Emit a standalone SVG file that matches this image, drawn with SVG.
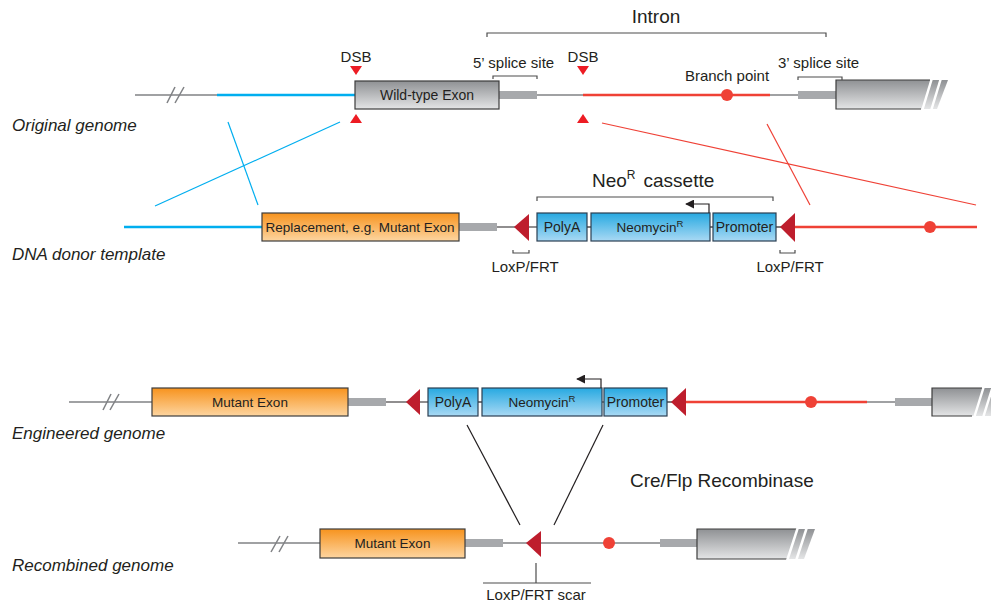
<svg xmlns="http://www.w3.org/2000/svg" width="991" height="605" viewBox="0 0 991 605">
<defs>
<linearGradient id="gGray" x1="0" y1="0" x2="0" y2="1"><stop offset="0" stop-color="#8f9194"/><stop offset="1" stop-color="#e4e5e6"/></linearGradient>
<linearGradient id="gOrange" x1="0" y1="0" x2="0" y2="1"><stop offset="0" stop-color="#f7931e"/><stop offset="1" stop-color="#fdd5a0"/></linearGradient>
<linearGradient id="gBlue" x1="0" y1="0" x2="0" y2="1"><stop offset="0" stop-color="#27a9e1"/><stop offset="1" stop-color="#a9d9f4"/></linearGradient>
<marker id="arr" viewBox="0 0 10 10" refX="9" refY="5" markerWidth="9" markerHeight="9" markerUnits="userSpaceOnUse" orient="auto"><path d="M0,0 L10,5 L0,10 Z" fill="#231f20"/></marker>
</defs>
<style>
text{font-family:"Liberation Sans",Arial,sans-serif;fill:#231f20}
.lbl{font-size:17px;font-style:italic}
.big{font-size:19px}
.sm{font-size:15px}
.box{font-size:14px;text-anchor:middle}
.thin{stroke:#808285;stroke-width:1.5;fill:none}
.blk{stroke:#231f20;stroke-width:1.2;fill:none}
.blue{stroke:#00aeef;stroke-width:2.5;fill:none}
.red{stroke:#ef4136;stroke-width:2.5;fill:none}
.redthin{stroke:#ef4136;stroke-width:1.2;fill:none}
.bluethin{stroke:#00aeef;stroke-width:1.2;fill:none}
.bar{fill:#a7a9ac}
.gbox{fill:url(#gGray)}
.obox{fill:url(#gOrange);stroke:#3c3c3c;stroke-width:1.2}
.bbox{fill:url(#gBlue);stroke:#2b3f52;stroke-width:1.2}
.wbox{fill:url(#gGray);stroke:#3c3c3c;stroke-width:1.2}
.edge{stroke:#3c3c3c;stroke-width:1.2;fill:none}
.cut{stroke:#fff;stroke-width:2.5}
.lox{fill:#be1e2d}
.dsb{fill:#ed1c24}
.bp{fill:#ef4136}
.brk{stroke:#4d4d4d;stroke-width:1.2;fill:none}
.neo{font-size:13.5px}
</style>

<!-- Row labels -->
<g id="labels">
<text class="lbl" x="12" y="131">Original genome</text>
<text class="lbl" x="12" y="260">DNA donor template</text>
<text class="lbl" x="12" y="439">Engineered genome</text>
<text class="lbl" x="12" y="571">Recombined genome</text>
</g>

<!-- Connectors / crossing lines -->
<g id="connectors">
<line class="bluethin" x1="228" y1="122" x2="258" y2="205"/>
<line class="bluethin" x1="340" y1="122" x2="155" y2="206"/>
<line class="redthin" x1="602" y1="123" x2="976" y2="205"/>
<line class="redthin" x1="767" y1="124" x2="810" y2="205"/>
<line class="blk" x1="467" y1="425" x2="520" y2="525"/>
<line class="blk" x1="603" y1="425" x2="554" y2="525"/>
</g>

<!-- Row 1: Original genome -->
<g id="original-genome">
<line class="thin" x1="135" y1="95" x2="217" y2="95"/>
<line class="thin" x1="167" y1="103" x2="175" y2="87"/>
<line class="thin" x1="175" y1="103" x2="184" y2="87"/>
<line class="blue" x1="217" y1="95" x2="355" y2="95"/>
<rect class="bar" x="499" y="91" width="38" height="8"/>
<line class="thin" x1="537" y1="95" x2="583" y2="95"/>
<line class="red" x1="583" y1="95" x2="770" y2="95"/>
<circle class="bp" cx="727" cy="95" r="6"/>
<line class="thin" x1="770" y1="95" x2="798" y2="95"/>
<rect class="bar" x="798" y="91" width="38" height="8"/>
</g>
<g id="wild-type-exon">
<rect class="wbox" x="355" y="81" width="144" height="28"/>
<text class="box" x="427" y="100">Wild-type Exon</text>
</g>
<g id="exon2-original">
<polygon class="gbox" points="836,80 948,80 937,109 836,109"/>
<path class="edge" d="M930,80 H836 V109 H921"/>
<line class="cut" x1="932" y1="78" x2="922" y2="111"/>
<line class="cut" x1="941" y1="78" x2="931" y2="111"/>
</g>
<g id="dsb1">
<text class="sm" x="356" y="62" text-anchor="middle">DSB</text>
<polygon class="dsb" points="350,66 362,66 356,75"/>
<polygon class="dsb" points="350,123 362,123 356,114"/>
</g>
<g id="dsb2">
<text class="sm" x="583" y="62" text-anchor="middle">DSB</text>
<polygon class="dsb" points="577,66 589,66 583,75"/>
<polygon class="dsb" points="577,123 589,123 583,114"/>
</g>
<g id="intron">
<text class="big" x="656" y="23" text-anchor="middle">Intron</text>
<path class="brk" d="M487,37 V33 H826 V37"/>
</g>
<g id="splice5">
<text class="sm" x="473" y="68">5’ splice site</text>
<path class="brk" d="M493,79 V76 H537 V79"/>
</g>
<g id="splice3">
<text class="sm" x="778" y="68">3’ splice site</text>
<path class="brk" d="M798,80 V77 H842 V80"/>
</g>
<g id="branch-point">
<text class="sm" x="727" y="81" text-anchor="middle">Branch point</text>
</g>

<!-- Row 2: DNA donor template -->
<g id="donor-template">
<line class="blue" x1="124" y1="227" x2="262" y2="227"/>
<rect class="bar" x="459" y="223" width="38" height="8"/>
<line class="blk" x1="497" y1="227" x2="537" y2="227"/>
<line class="blk" x1="587" y1="227" x2="591" y2="227"/>
<line class="blk" x1="710" y1="227" x2="713" y2="227"/>
<line class="blk" x1="776" y1="227" x2="782" y2="227"/>
<line class="red" x1="795" y1="227" x2="977" y2="227"/>
<circle class="bp" cx="930" cy="227" r="6"/>
</g>
<g id="replacement-exon">
<rect class="obox" x="262" y="213" width="197" height="28"/>
<text class="box" x="360" y="232" style="font-size:13.5px">Replacement, e.g. Mutant Exon</text>
</g>
<g id="lox1-donor">
<polygon class="lox" points="514,227 529,214 529,241"/>
<path class="brk" d="M513,250 V253 H529 V250"/>
<text class="sm" x="525" y="272" text-anchor="middle">LoxP/FRT</text>
</g>
<g id="polyA-donor">
<rect class="bbox" x="537" y="213" width="50" height="28"/>
<text class="box" x="562" y="232">PolyA</text>
</g>
<g id="neo-donor">
<rect class="bbox" x="591" y="213" width="119" height="28"/>
<text class="box neo" x="650" y="232">Neomycin<tspan font-size="9.5" dy="-5">R</tspan></text>
<path class="blk" d="M709,213 V204 H686" marker-end="url(#arr)"/>
</g>
<g id="promoter-donor">
<rect class="bbox" x="713" y="213" width="63" height="28"/>
<text class="box" x="744.5" y="232">Promoter</text>
</g>
<g id="lox2-donor">
<polygon class="lox" points="780,227 795,213 795,242"/>
<path class="brk" d="M780,250 V253 H795 V250"/>
<text class="sm" x="790" y="272" text-anchor="middle">LoxP/FRT</text>
</g>
<g id="neo-cassette">
<text class="big" x="592" y="187">Neo<tspan font-size="12" dy="-8">R</tspan><tspan dy="8" dx="8">cassette</tspan></text>
<path class="brk" d="M537,201 V197 H773 V201"/>
</g>

<!-- Row 3: Engineered genome -->
<g id="engineered-genome">
<line class="thin" x1="69" y1="402" x2="152" y2="402"/>
<line class="thin" x1="103" y1="410" x2="111" y2="394"/>
<line class="thin" x1="110" y1="410" x2="119" y2="394"/>
<rect class="bar" x="348" y="398" width="38" height="8"/>
<line class="blk" x1="386" y1="402" x2="428" y2="402"/>
<line class="blk" x1="478" y1="402" x2="482" y2="402"/>
<line class="blk" x1="602" y1="402" x2="604" y2="402"/>
<line class="blk" x1="667" y1="402" x2="673" y2="402"/>
<line class="red" x1="686" y1="402" x2="867" y2="402"/>
<circle class="bp" cx="811" cy="402" r="6"/>
<line class="thin" x1="867" y1="402" x2="895" y2="402"/>
<rect class="bar" x="895" y="398" width="37" height="8"/>
</g>
<g id="mutant-exon-eng">
<rect class="obox" x="152" y="388" width="196" height="28"/>
<text class="box" x="250" y="407" style="font-size:13.5px">Mutant Exon</text>
</g>
<g id="lox1-eng">
<polygon class="lox" points="406,402 420,389 420,415"/>
</g>
<g id="polyA-eng">
<rect class="bbox" x="428" y="388" width="50" height="28"/>
<text class="box" x="453" y="407">PolyA</text>
</g>
<g id="neo-eng">
<rect class="bbox" x="482" y="388" width="120" height="28"/>
<text class="box neo" x="542" y="407">Neomycin<tspan font-size="9.5" dy="-5">R</tspan></text>
<path class="blk" d="M601,388 V379 H577" marker-end="url(#arr)"/>
</g>
<g id="promoter-eng">
<rect class="bbox" x="604" y="388" width="63" height="28"/>
<text class="box" x="635.5" y="407">Promoter</text>
</g>
<g id="lox2-eng">
<polygon class="lox" points="671,402 686,388 686,416"/>
</g>
<g id="exon2-eng">
<polygon class="gbox" points="932,388 1000,388 1000,416 932,416"/>
<path class="edge" d="M982,388 H932 V416 H972"/>
<line class="cut" x1="984" y1="386" x2="974" y2="418"/>
<line class="cut" x1="993" y1="386" x2="983" y2="418"/>
</g>
<g id="recombinase">
<text class="big" x="630" y="487">Cre/Flp Recombinase</text>
</g>

<!-- Row 4: Recombined genome -->
<g id="recombined-genome">
<line class="thin" x1="238" y1="543" x2="320" y2="543"/>
<line class="thin" x1="271" y1="552" x2="280" y2="536"/>
<line class="thin" x1="279" y1="552" x2="288" y2="536"/>
<rect class="bar" x="465" y="539" width="38" height="8"/>
<line class="thin" x1="503" y1="543" x2="528" y2="543"/>
<line class="thin" x1="541" y1="543" x2="660" y2="543"/>
<circle class="bp" cx="609" cy="543" r="6"/>
<rect class="bar" x="660" y="539" width="37" height="8"/>
</g>
<g id="mutant-exon-rec">
<rect class="obox" x="320" y="529" width="145" height="29"/>
<text class="box" x="392.5" y="548" style="font-size:13.5px">Mutant Exon</text>
</g>
<g id="lox-scar">
<polygon class="lox" points="526,543 541,531 541,557"/>
<path class="brk" d="M536,563 V583 M483,583 H591"/>
<text class="sm" x="536" y="600" text-anchor="middle">LoxP/FRT scar</text>
</g>
<g id="exon2-rec">
<polygon class="gbox" points="697,529 815,529 804,559 697,559"/>
<path class="edge" d="M797,529 H697 V559 H787"/>
<line class="cut" x1="798" y1="527" x2="787" y2="561"/>
<line class="cut" x1="807" y1="527" x2="796" y2="561"/>
</g>
</svg>
